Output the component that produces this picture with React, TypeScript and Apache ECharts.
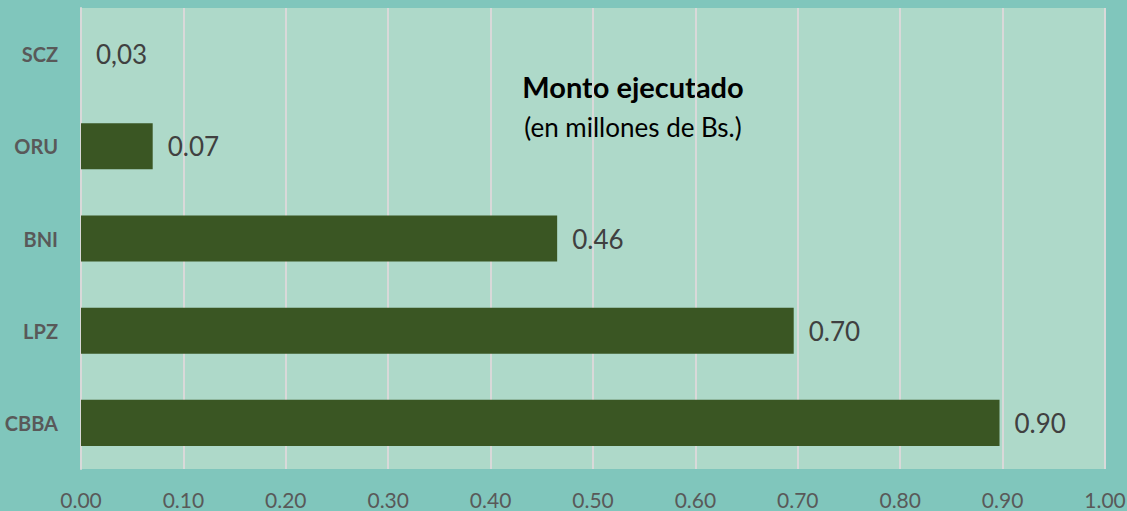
import React, { useEffect, useRef } from "react";
import * as echarts from "echarts";

const categories = ["SCZ", "ORU", "BNI", "LPZ", "CBBA"];
const values = [0.0, 0.07, 0.465, 0.696, 0.897];
const valueLabels = ["0,03", "0.07", "0.46", "0.70", "0.90"];
const titleText = "Monto ejecutado";
const subtitleText = "(en millones de Bs.)";

export default function App() {
  const ref = useRef<HTMLDivElement>(null);
  useEffect(() => {
    if (!ref.current) return;
    const chart = echarts.init(ref.current, null, { renderer: "svg" });
    const font = "Lato, 'Open Sans', sans-serif";
    chart.setOption({
      animation: false,
      backgroundColor: "#80C6BC",
      textStyle: { fontFamily: font },
      grid: {
        left: 81,
        right: 22,
        top: 8,
        bottom: 42,
        show: true,
        backgroundColor: "#AED9C9",
        borderWidth: 0,
        containLabel: false,
        outerBoundsMode: "none",
      },
      xAxis: {
        type: "value",
        min: 0,
        max: 1,
        interval: 0.1,
        axisLine: { show: false },
        axisTick: { show: false },
        axisLabel: {
          formatter: (v: number) => v.toFixed(2),
          color: "#595959",
          fontSize: 21,
          fontFamily: font,
          margin: 20,
        },
        splitLine: { show: true, lineStyle: { color: "#D9D9D9", width: 2 } },
      },
      yAxis: {
        type: "category",
        inverse: true,
        data: categories,
        axisLine: { show: true, lineStyle: { color: "#D9D9D9", width: 2 } },
        axisTick: { show: false },
        axisLabel: {
          color: "#595959",
          fontSize: 20,
          fontWeight: "bold",
          fontFamily: font,
          margin: 23,
        },
      },
      series: [
        {
          type: "bar",
          data: values,
          barWidth: "50%",
          itemStyle: { color: "#3A5623", borderWidth: 0 },
          label: {
            show: true,
            position: "right",
            distance: 15,
            fontSize: 26,
            color: "#404040",
            fontFamily: font,
            formatter: (p: any) => valueLabels[p.dataIndex],
          },
        },
      ],
      graphic: [
        {
          type: "text",
          x: 633,
          y: 72,
          style: {
            text: titleText,
            font: `bold 29px ${font}`,
            fill: "#000000",
            textAlign: "center",
          },
        },
        {
          type: "text",
          x: 633,
          y: 114,
          style: {
            text: subtitleText,
            font: `26px ${font}`,
            fill: "#000000",
            textAlign: "center",
          },
        },
      ],
    });
    return () => chart.dispose();
  }, []);
  return (
    <div
      ref={ref}
      style={{ position: "absolute", left: 0, top: 0, width: 1127, height: 511 }}
    />
  );
}
